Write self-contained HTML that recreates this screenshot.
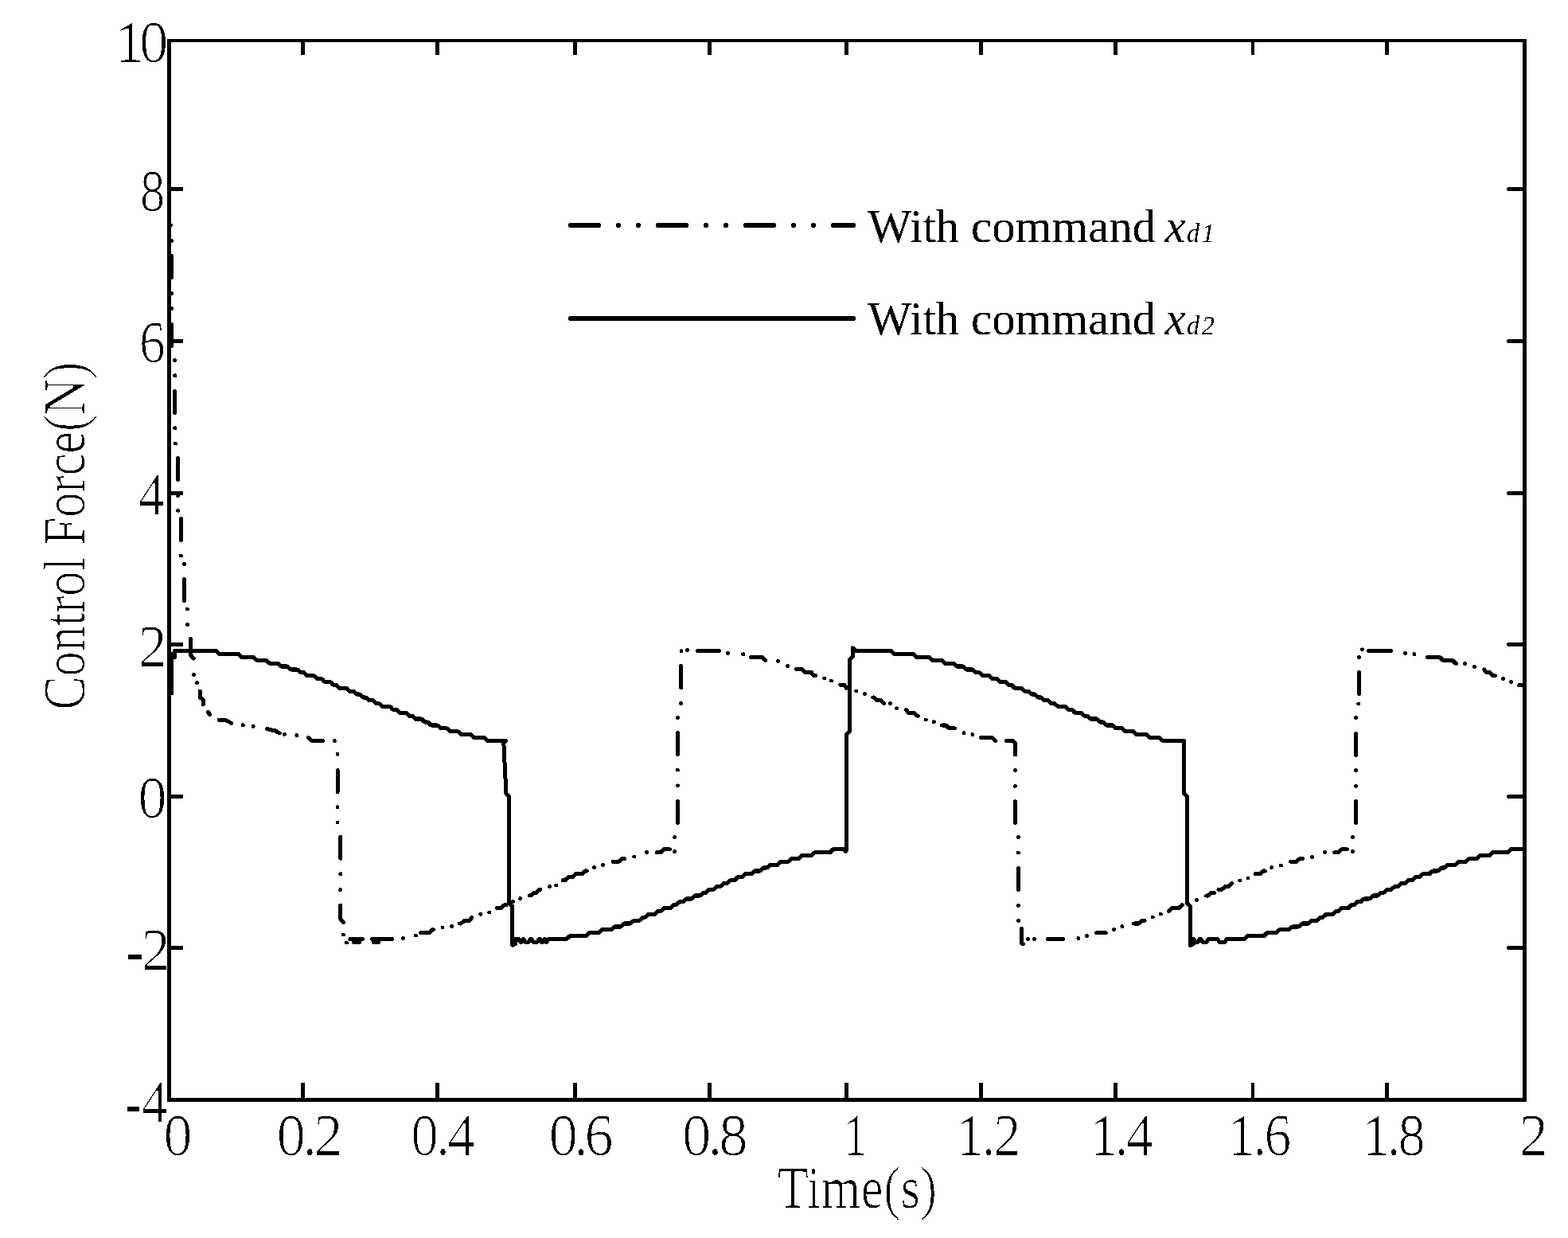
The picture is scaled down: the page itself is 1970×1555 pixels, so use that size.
<!DOCTYPE html>
<html lang="en"><head><meta charset="utf-8"><title>Control Force(N) vs Time(s)</title>
<style>html,body{margin:0;padding:0;background:#fff}svg{display:block}text{font-family:"Liberation Serif",serif;fill:#000}</style>
</head><body>
<svg width="1970" height="1555" viewBox="0 0 1970 1555">
<defs>
<filter id="bw" x="0" y="0" width="1970" height="1555" filterUnits="userSpaceOnUse" color-interpolation-filters="sRGB"><feComponentTransfer><feFuncR type="discrete" tableValues="0 1"/><feFuncG type="discrete" tableValues="0 1"/><feFuncB type="discrete" tableValues="0 1"/></feComponentTransfer></filter>
<filter id="thin" x="0" y="0" width="1970" height="1555" filterUnits="userSpaceOnUse"><feComponentTransfer result="b"><feFuncA type="discrete" tableValues="0 1"/></feComponentTransfer><feMorphology in="b" operator="erode" radius="1 0" result="e"/><feMorphology in="e" operator="dilate" radius="1 0" result="o"/><feComposite in="b" in2="o" operator="out" result="t"/><feMerge><feMergeNode in="e"/><feMergeNode in="t"/></feMerge></filter>
<filter id="thinv" x="0" y="0" width="1970" height="1555" filterUnits="userSpaceOnUse"><feComponentTransfer result="b"><feFuncA type="discrete" tableValues="0 1"/></feComponentTransfer><feMorphology in="b" operator="erode" radius="0 1" result="e"/><feMorphology in="e" operator="dilate" radius="0 1" result="o"/><feComposite in="b" in2="o" operator="out" result="t"/><feMerge><feMergeNode in="e"/><feMergeNode in="t"/></feMerge></filter>
</defs>
<g filter="url(#bw)">
<rect width="1970" height="1555" fill="#fff"/>
<g id="axes" fill="#000" shape-rendering="crispEdges">
<rect x="210" y="49" width="5" height="1335"/>
<rect x="1913" y="49" width="5" height="1335"/>
<rect x="210" y="49" width="1708" height="4"/>
<rect x="210" y="1379" width="1708" height="5"/>
<rect x="378" y="1360" width="5" height="19"/>
<rect x="378" y="53" width="5" height="16"/>
<rect x="547" y="1360" width="5" height="19"/>
<rect x="547" y="53" width="5" height="16"/>
<rect x="720" y="1360" width="5" height="19"/>
<rect x="720" y="53" width="5" height="16"/>
<rect x="889" y="1360" width="5" height="19"/>
<rect x="889" y="53" width="5" height="16"/>
<rect x="1061" y="1360" width="5" height="19"/>
<rect x="1061" y="53" width="5" height="16"/>
<rect x="1230" y="1360" width="5" height="19"/>
<rect x="1230" y="53" width="5" height="16"/>
<rect x="1399" y="1360" width="5" height="19"/>
<rect x="1399" y="53" width="5" height="16"/>
<rect x="1572" y="1360" width="4" height="19"/>
<rect x="1572" y="53" width="4" height="16"/>
<rect x="1740" y="1360" width="5" height="19"/>
<rect x="1740" y="53" width="5" height="16"/>
<rect x="215" y="235" width="15" height="5"/>
<rect x="215" y="426" width="15" height="5"/>
<rect x="215" y="617" width="15" height="5"/>
<rect x="215" y="807" width="15" height="5"/>
<rect x="215" y="998" width="15" height="5"/>
<rect x="215" y="1188" width="15" height="5"/>
</g>
<g id="rticks" fill="#000">
<rect x="1893" y="235" width="22" height="5" rx="2.5"/>
<rect x="1893" y="426" width="22" height="5" rx="2.5"/>
<rect x="1893" y="617" width="22" height="5" rx="2.5"/>
<rect x="1893" y="807" width="22" height="5" rx="2.5"/>
<rect x="1893" y="998" width="22" height="5" rx="2.5"/>
<rect x="1893" y="1188" width="22" height="5" rx="2.5"/>
</g>
<g id="ticklabels" filter="url(#thin)" font-size="74.8">
<text transform="matrix(0.9893 0 0 1 204.9 1451.2)">0</text>
<text transform="matrix(0.9893 0 0 1 347.34 1451.2)" letter-spacing="-4.48">0.2</text>
<text transform="matrix(0.94 0 0 1 516.09 1451.2)" letter-spacing="-3.68">0.4</text>
<text transform="matrix(0.9893 0 0 1 689.24 1451.2)" letter-spacing="-5.42">0.6</text>
<text transform="matrix(0.9893 0 0 1 856.74 1451.2)" letter-spacing="-4.64">0.8</text>
<text transform="matrix(0.8 0 0 1 1059.67 1451.2)">1</text>
<text transform="matrix(0.93 0 0 1 1201.44 1451.2)" letter-spacing="-2.99">1.2</text>
<text transform="matrix(0.93 0 0 1 1369.54 1451.2)" letter-spacing="-4.01">1.4</text>
<text transform="matrix(0.93 0 0 1 1542.54 1451.2)" letter-spacing="-3.55">1.6</text>
<text transform="matrix(0.93 0 0 1 1711.44 1451.2)" letter-spacing="-3.93">1.8</text>
<text transform="matrix(0.9893 0 0 1 1908.47 1451.2)">2</text>
<text transform="matrix(0.9893 0 0 1 144.29 78.3)" letter-spacing="-6.5">10</text>
<text transform="matrix(0.85 0 0 1 175.65 265.1)">8</text>
<text transform="matrix(0.9 0 0 1 174.46 455.3)">6</text>
<text transform="matrix(0.9 0 0 1 173.45 646)">4</text>
<text transform="matrix(0.9893 0 0 1 173.17 837)">2</text>
<text transform="matrix(0.9893 0 0 1 172.96 1027.3)">0</text>
<text transform="matrix(0.9893 0 0 1 157.1 1218)" letter-spacing="-4.5"><tspan dy="1.7">-</tspan><tspan dy="-1.7">2</tspan></text>
<text transform="matrix(0.9 0 0 1 156.48 1409)" letter-spacing="-1.5"><tspan dy="1.7">-</tspan><tspan dy="-1.7">4</tspan></text>
<text transform="matrix(0.879 0 0 1 976.41 1517)" letter-spacing="-0.24" font-size="73.6">Time(s)</text>
</g>
<g id="ylabel" filter="url(#thinv)" font-size="74.8">
<text transform="matrix(0 -0.879 1 0 105.9 892.29)" letter-spacing="-0.98" font-size="73.6">Control Force(N)</text>
</g>
<g id="curves" fill="none" stroke="#000" stroke-width="5" stroke-linejoin="round" stroke-linecap="round">
<path id="xd1" d="M215.7 321.5L215.7 348.5M215.7 407.3L215.7 434.2M219.6 491.5L219.6 518.5M223.5 575.5L223.5 602.5M227.4 651.5L227.4 678.5M231.5 727.3L231.5 754.5M239.5 802.5L239.5 823L243.4 827M251.3 868L251.3 876L255.3 879L255.3 885M261.5 894.5L263.5 897.5M275 904.5L285 905L290.5 908.5M335.5 915.5L346 918L351.5 921M387.5 926.3L391.5 930.3L405.5 930.3M424.1 967.5L424.1 994.4M427.8 1051.1L427.8 1078.3M427.8 1136.9L427.8 1154.5L431.5 1158.5M439.8 1179.5L455.3 1179.5M467.5 1179.5L492.5 1179.5M444.5 1183.4L451.5 1183.4M469.5 1183.4L475.5 1183.4M528.5 1171.72L539.23 1171.72L543.17 1167.84L544.5 1167.84M577.5 1160.06L579.43 1160.06L583.37 1156.17L590.43 1156.17L592.5 1152.29M624.5 1140.62L629.43 1140.62L633.37 1136.74L636 1136.74M665.5 1125.08L666.63 1125.08L670.57 1121.19L674.03 1121.19L677.97 1117.3L678.8 1117.3M707 1105.64L709.93 1105.64L713.87 1101.75L719.03 1101.75L722.97 1097.86L731.23 1097.86L735.17 1093.97L737.3 1093.97M770 1082.31L777.53 1082.31L781.47 1078.42L784.2 1078.42M825 1070.65L829.93 1070.65L833.87 1066.76L841.5 1066.76M851.6 1006.3L851.6 1033.5M851.5 920.4L851.5 947.6M855.6 836.5L855.6 863.7M876.4 817.6L903.6 817.6M943.7 825.38L957.33 825.38L961.27 829.26L961.5 829.26M1000.5 840.5L1008 840.5L1011 844.3L1019 844.3L1022 848.2L1024.5 848.2M1055.8 860.36L1060.93 860.36L1063.5 864.25M1096.7 875.91L1098.13 875.91L1102.07 879.8L1107.33 879.8L1110.4 883.69M1138.5 891.46L1141.07 895.35L1148.73 895.35L1152.67 899.24L1153.3 899.24M1183.5 910.9L1188.33 910.9L1192.27 914.79L1199.5 914.79M1232.5 926.45L1246.83 926.45L1250.5 930.34M1264.3 930.4L1272.5 930.4L1275.4 933.3L1275.4 948M1275.4 1006.7L1275.4 1033.5M1279.5 1090.6L1279.5 1117.5M1283.5 1166.4L1283.5 1185L1285.5 1186M1316.4 1179.5L1335.5 1179.5M1377.5 1171.72L1389.3 1171.72M1424.5 1160.06L1430.93 1160.06L1434.87 1156.17L1438.1 1156.17M1468.7 1144.51L1468.73 1144.51L1472.67 1140.62L1480.93 1140.62L1484.87 1136.74L1485.5 1136.74M1515.6 1125.08L1518.13 1125.08L1522.07 1121.19L1525.5 1121.19M1530.9 1117.3L1535.23 1117.3L1539.17 1113.41L1543.73 1113.41L1547.5 1109.53M1577.4 1097.86L1582.73 1097.86L1586.67 1093.97L1589.5 1093.97M1621.6 1082.31L1629.03 1082.31L1632.97 1078.42L1636.4 1078.42M1676.5 1070.65L1681.43 1070.65L1685.37 1066.76L1692.5 1066.76M1703.5 1006.3L1703.5 1033.5M1703.5 921.4L1703.5 948.2M1707.4 844.6L1707.4 871.4M1719.5 817.6L1747.6 817.6M1793.6 825.38L1808.83 825.38L1812.77 829.26L1824.73 829.26L1828.67 833.15L1829.5 833.15M1864.5 840.93L1867.67 844.81L1872.23 844.81L1876.17 848.7L1878.5 848.7M1908.8 860.4L1913 860.4"/>
<path id="xd1dots" d="M214.5 282.8h0M215.5 302.3h0M215.7 368.2h0M215.7 387.3h0M219.6 452.5h0M219.6 471.7h0M219.6 537.8h0M220.5 557h0M223.6 622.4h0M223.6 641.3h0M227.4 698h0M231.4 708.6h0M235.5 765h0M235.5 784.6h0M243.4 847.4h0M247.4 857.5h0M305.2 910.7h0M318.1 912.3h0M357.4 922.3h0M372.9 923.5h0M420.2 930.4h0M424 947.3h0M424 1013.8h0M424 1033.1h0M427.8 1097.8h0M427.8 1117.4h0M431.5 1174h0M435.4 1184h0M506.6 1178.4h0M522.5 1174.9h0M556 1164.9h0M567.3 1163.6h0M603.8 1148.3h0M614.8 1145.9h0M644.4 1132.5h0M653.8 1128.6h0M690.8 1113.4h0M698.7 1112h0M746.5 1089.5h0M757.6 1086.4h0M796.8 1076.1h0M812.4 1070.4h0M847.8 1069.4h0M847.8 1051.4h0M851.5 986.8h0M851.5 967.1h0M851.5 901.3h0M855.6 883.6h0M856 817.4h0M863.4 816.4h0M914.4 820.4h0M933.6 821.7h0M977.4 830.6h0M989.4 836.4h0M1035.9 851.9h0M1044.4 854.9h0M1075.7 867.9h0M1086.3 871.6h0M1118.6 883.5h0M1126.5 889.8h0M1163.1 903.9h0M1173.4 906.8h0M1211 920.6h0M1221.9 922.4h0M1275.4 967.6h0M1275.4 987.2h0M1279.4 1051.5h0M1279.4 1070.9h0M1279.4 1137.3h0M1279.4 1156.6h0M1291.5 1179.4h0M1299.5 1179.4h0M1354.9 1178.4h0M1365.4 1175.5h0M1399.5 1167.6h0M1409.9 1163.6h0M1448.2 1152h0M1458.5 1148.1h0M1503.4 1130.4h0M1557.9 1106h0M1568 1102.9h0M1597.8 1089.5h0M1609.4 1087.1h0M1648.4 1076.5h0M1664.5 1070.4h0M1699.4 1069.4h0M1699.4 1051.4h0M1703.6 987.2h0M1703.6 967.5h0M1703.6 901.5h0M1706.9 884h0M1707.5 825.3h0M1711.5 815.7h0M1765.5 820.4h0M1776.9 821.4h0M1840.7 833.6h0M1852.6 837.5h0M1888.3 852.5h0M1898.3 856.5h0"/>
<path id="xd2" d="M215.7 871L215.7 821.5L219.6 825.4L219.6 817.6L271.23 817.6L275.17 821.49L299.23 821.49L303.17 825.38L318.73 825.38L322.67 829.26L334.63 829.26L338.57 833.15L349.23 833.15L353.17 837.04L361.43 837.04L365.37 840.93L373.63 840.93L377.57 844.81L382.13 844.81L386.07 848.7L394.33 848.7L398.27 852.59L404.03 852.59L407.97 856.48L415.03 856.48L418.97 860.36L422.33 860.36L426.27 864.25L435.03 864.25L438.97 868.14L443.73 868.14L447.67 872.02L451.63 872.02L455.57 875.91L459.53 875.91L463.47 879.8L468.73 879.8L472.67 883.69L476.63 883.69L480.57 887.58L490.03 887.58L493.97 891.46L498.53 891.46L502.47 895.35L510.13 895.35L514.07 899.24L518.03 899.24L521.97 903.12L529.63 903.12L533.57 907.01L537.53 907.01L541.47 910.9L549.73 910.9L553.67 914.79L561.33 914.79L565.27 918.68L575.33 918.68L579.27 922.56L591.73 922.56L595.67 926.45L608.23 926.45L612.17 930.34L635.4 930.34L635.4 930.3L632.8 932.8L635.9 996.5L639.8 1000.4L639.8 1134.5L643.8 1138.4L643.8 1187.3L647.7 1185.5L647.7 1179.5L651.8 1179.5L653.8 1183.4L655.2 1183.4L657.2 1179.5L657.8 1179.5L659.8 1183.4L664.2 1183.4L666.2 1179.5L667.8 1179.5L669.8 1183.4L675.2 1183.4L677.2 1179.5L678.3 1179.5L680.3 1183.4L682.2 1183.4L684.2 1179.5L684.3 1179.5L686.3 1183.4L687.2 1183.4L689.2 1179.5L690 1179.5L711.93 1179.5L715.87 1175.61L736.33 1175.61L740.27 1171.72L752.13 1171.72L756.07 1167.84L768.03 1167.84L771.97 1163.95L780.23 1163.95L784.17 1160.06L792.33 1160.06L796.27 1156.17L803.33 1156.17L807.27 1152.29L810.63 1152.29L814.57 1148.4L822.83 1148.4L826.77 1144.51L830.13 1144.51L834.07 1140.62L842.33 1140.62L846.27 1136.74L849.63 1136.74L853.57 1132.85L858.03 1132.85L861.97 1128.96L869.23 1128.96L873.17 1125.08L879.53 1125.08L883.47 1121.19L886.93 1121.19L890.87 1117.3L896.63 1117.3L900.57 1113.41L905.13 1113.41L909.07 1109.53L913.73 1109.53L917.67 1105.64L922.83 1105.64L926.77 1101.75L931.93 1101.75L935.87 1097.86L944.13 1097.86L948.07 1093.97L955.13 1093.97L959.07 1090.09L963.63 1090.09L967.57 1086.2L977.03 1086.2L980.97 1082.31L990.43 1082.31L994.37 1078.42L1003.83 1078.42L1007.77 1074.54L1019.73 1074.54L1023.67 1070.65L1042.83 1070.65L1046.77 1066.76L1063.5 1066.76L1060 1066.2L1062 1069.5L1063.5 1068L1063.5 922.2L1067.6 918.3L1067.6 828.6L1071.5 824.7L1071.5 813.7L1075.4 817.6L1119.73 817.6L1123.67 821.49L1147.73 821.49L1151.67 825.38L1167.23 825.38L1171.17 829.26L1183.13 829.26L1187.07 833.15L1197.73 833.15L1201.67 837.04L1209.93 837.04L1213.87 840.93L1222.13 840.93L1226.07 844.81L1230.63 844.81L1234.57 848.7L1242.83 848.7L1246.77 852.59L1252.53 852.59L1256.47 856.48L1263.53 856.48L1267.47 860.36L1270.83 860.36L1274.77 864.25L1283.53 864.25L1287.47 868.14L1292.23 868.14L1296.17 872.02L1300.13 872.02L1304.07 875.91L1308.03 875.91L1311.97 879.8L1317.23 879.8L1321.17 883.69L1325.13 883.69L1329.07 887.58L1338.53 887.58L1342.47 891.46L1347.03 891.46L1350.97 895.35L1358.63 895.35L1362.57 899.24L1366.53 899.24L1370.47 903.12L1378.13 903.12L1382.07 907.01L1386.03 907.01L1389.97 910.9L1398.23 910.9L1402.17 914.79L1409.83 914.79L1413.77 918.68L1423.83 918.68L1427.77 922.56L1440.23 922.56L1444.17 926.45L1456.73 926.45L1460.67 930.34L1487.6 930.34L1487.6 930.3L1487.6 996.5L1491.5 1000.4L1491.5 1134.5L1495.5 1138.4L1495.5 1187.3L1499.4 1185.5L1499.4 1179.5L1499.8 1179.5L1501.8 1183.4L1505.2 1183.4L1507.2 1179.5L1508.8 1179.5L1510.8 1183.4L1516.2 1183.4L1518.2 1179.5L1529.8 1179.5L1531.8 1183.4L1539.2 1183.4L1541.2 1179.5L1542 1179.5L1563.43 1179.5L1567.37 1175.61L1587.83 1175.61L1591.77 1171.72L1603.63 1171.72L1607.57 1167.84L1619.53 1167.84L1623.47 1163.95L1631.73 1163.95L1635.67 1160.06L1643.83 1160.06L1647.77 1156.17L1654.83 1156.17L1658.77 1152.29L1662.13 1152.29L1666.07 1148.4L1674.33 1148.4L1678.27 1144.51L1681.63 1144.51L1685.57 1140.62L1693.83 1140.62L1697.77 1136.74L1701.13 1136.74L1705.07 1132.85L1709.53 1132.85L1713.47 1128.96L1720.73 1128.96L1724.67 1125.08L1731.03 1125.08L1734.97 1121.19L1738.43 1121.19L1742.37 1117.3L1748.13 1117.3L1752.07 1113.41L1756.63 1113.41L1760.57 1109.53L1765.23 1109.53L1769.17 1105.64L1774.33 1105.64L1778.27 1101.75L1783.43 1101.75L1787.37 1097.86L1795.63 1097.86L1799.57 1093.97L1806.63 1093.97L1810.57 1090.09L1815.13 1090.09L1819.07 1086.2L1828.53 1086.2L1832.47 1082.31L1841.93 1082.31L1845.87 1078.42L1855.33 1078.42L1859.27 1074.54L1871.23 1074.54L1875.17 1070.65L1894.33 1070.65L1898.27 1066.76L1913 1066.76"/>
</g>
<g id="legend">
<g fill="none" stroke="#000" stroke-width="6" stroke-linecap="round">
<path d="M717 283H1072" stroke-dasharray="35 25 0.01 25 0.01 25"/>
<path d="M717 400H1072"/>
</g>
<text transform="matrix(0.9815 0 0 1 1089.9 304)" font-size="60">With command <tspan font-style="italic" dx="-3.5">x</tspan><tspan font-style="italic" font-size="33" letter-spacing="2.5" dx="1.5">d1</tspan></text>
<text transform="matrix(0.9815 0 0 1 1089.9 420.4)" font-size="60">With command <tspan font-style="italic" dx="-3.5">x</tspan><tspan font-style="italic" font-size="33" letter-spacing="2.5" dx="1.5">d2</tspan></text>
</g>
</g>
</svg>
</body></html>
